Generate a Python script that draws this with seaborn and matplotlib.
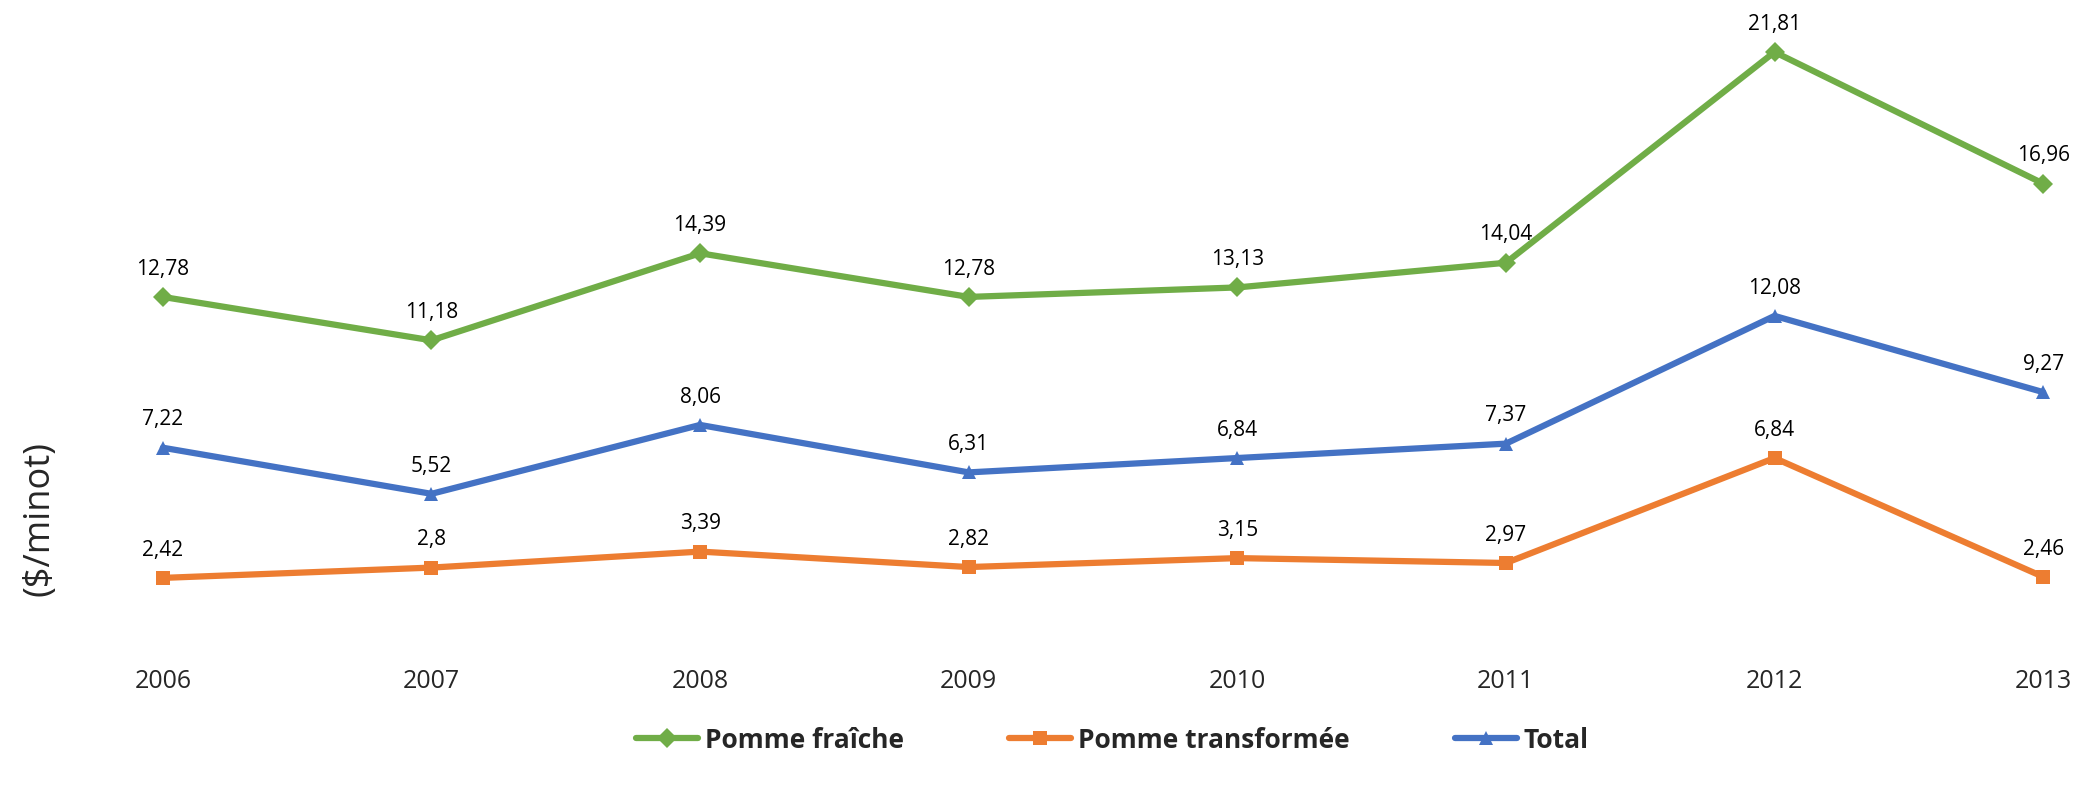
import seaborn as sns
import pandas as pd
import matplotlib.pyplot as plt

years = [2006, 2007, 2008, 2009, 2010, 2011, 2012, 2013]
fraiche = [12.78, 11.18, 14.39, 12.78, 13.13, 14.04, 21.81, 16.96]
transformee = [2.42, 2.8, 3.39, 2.82, 3.15, 2.97, 6.84, 2.46]
total = [7.22, 5.52, 8.06, 6.31, 6.84, 7.37, 12.08, 9.27]

series_names = ["Pomme fraîche", "Pomme transformée", "Total"]
colors = {"Pomme fraîche": "#70AD47", "Pomme transformée": "#ED7D31", "Total": "#4472C4"}
markers = {"Pomme fraîche": "D", "Pomme transformée": "s", "Total": "^"}

data = pd.concat(
    [
        pd.DataFrame({"Année": years, "Prix": vals, "Série": name})
        for name, vals in zip(series_names, [fraiche, transformee, total])
    ],
    ignore_index=True,
)

sns.set_style("white")
plt.rcParams["font.family"] = ["Open Sans", "DejaVu Sans"]

fig = plt.figure(figsize=(20.83, 7.9), dpi=100)
ax = fig.add_axes([136 / 2083, 0.1854, (2070 - 136) / 2083, 0.7896])

sns.lineplot(
    data=data, x="Année", y="Prix", hue="Série", style="Série",
    hue_order=series_names, style_order=series_names,
    palette=colors, markers=markers, dashes=False,
    linewidth=4.5, markersize=10, markeredgewidth=0, ax=ax,
)

# data labels
for name, vals in zip(series_names, [fraiche, transformee, total]):
    for x, v in zip(years, vals):
        lbl = f"{v:g}".replace(".", ",")
        ax.annotate(lbl, (x, v), xytext=(0, 20), textcoords="offset points",
                    ha="center", va="center", fontsize=15, color="#000000")

ax.set_xlim(years[0] - 0.1, years[-1] + 0.1)
ax.set_ylim(0, 23)
ax.set_xticks(years)
ax.set_xticklabels([str(y) for y in years], fontsize=18)
ax.tick_params(axis="x", length=0, pad=18)
ax.set_yticks([])
ax.set_xlabel("")
ax.set_ylabel("")
for s in ax.spines.values():
    s.set_visible(False)

fig.text(40 / 2083, (790 - 518) / 790, "($/minot)", rotation=90,
         ha="center", va="center", fontsize=26)

ax.get_legend().remove()
handles, labels = ax.get_legend_handles_labels()
leg = fig.legend(handles, labels, loc="center", bbox_to_anchor=(0.534, 0.063),
                 ncol=3, frameon=False, handlelength=2.35, handletextpad=0.25,
                 columnspacing=4, prop={"weight": "bold", "size": 19})

fig.savefig("out.png", dpi=100)
